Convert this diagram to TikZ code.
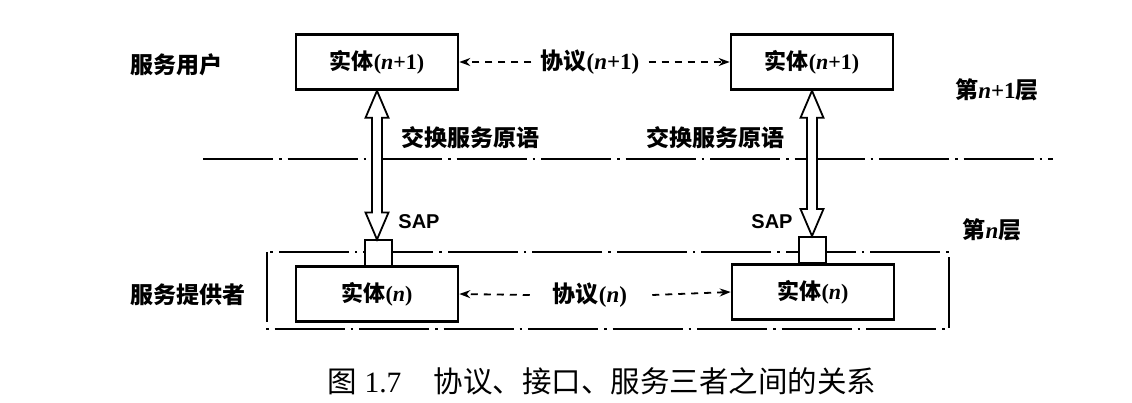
\documentclass[tikz,border=0pt]{standalone}
\usepackage{fontspec}
\setmainfont{Liberation Serif}
\newfontfamily\cjk{Noto Sans CJK SC}
\newfontfamily\sapfont{Liberation Sans}
\usetikzlibrary{arrows.meta,calc}
\newcommand{\zh}[1]{{\cjk #1}}
\newcommand{\vdarrow}[2]{%
  \draw[dblarrow] let \p1=(#1), \p2=(#2) in
    (\x1,\y1) -- (\x1+11.5pt,\y1-27pt) -- (\x1+5pt,\y1-27pt) -- (\x1+5pt,\y2+27pt)
    -- (\x1+11.5pt,\y2+27pt) -- (\x1,\y2) -- (\x1-11.5pt,\y2+27pt) -- (\x1-5pt,\y2+27pt)
    -- (\x1-5pt,\y1-27pt) -- (\x1-11.5pt,\y1-27pt) -- cycle;}
\tikzset{
  entity/.style={draw, line width=2.6pt, fill=white, minimum width=162pt, minimum height=55pt, font=\fontsize{22}{26}\selectfont\bfseries, inner sep=0pt},
  sapbox/.style={draw, line width=2pt, fill=white, minimum width=27pt, minimum height=26pt, inner sep=0pt},
  lbl/.style={font=\fontsize{23}{27}\selectfont\bfseries, inner sep=1pt},
  saplbl/.style={font=\fontsize{20}{24}\sapfont\bfseries, inner sep=1pt},
  proto/.style={line width=1.8pt, dash pattern=on 7pt off 6pt, -{Stealth[length=11pt,width=8pt]}},
  dashdot/.style={line width=2pt, dash pattern=on 70pt off 6pt on 2.5pt off 6pt},
  dblarrow/.style={line width=1.8pt, line join=miter, fill=white},
}
\begin{document}
\begin{tikzpicture}[x=1pt,y=-1pt]
\useasboundingbox (0,0) rectangle (1132,403);
% layer separator and layer n frame
\coordinate (hl) at (203,159);
\coordinate (hr) at (1053,159);
\draw[dashdot, line width=2.6pt] (hl) -- (hr);
\coordinate (f1) at (267,252);
\coordinate (f2) at (949,329);
\draw[dashdot] (f1) rectangle (f2);
% entities
\node[entity] (eul) at (377,62) {\zh{实体}(\textit{n}+1)};
\node[entity] (eur) at (812,62) {\zh{实体}(\textit{n}+1)};
\node[entity] (edl) at (377,294) {\zh{实体}(\textit{n})};
\node[entity] (edr) at (813,292) {\zh{实体}(\textit{n})};
% SAPs
\node[sapbox] (sapl) at (378,253.5) {};
\node[sapbox] (sapr) at (812,250) {};
% protocols
\node[lbl] (pu) at (590,62) {\zh{协议}(\textit{n}+1)};
\node[lbl] (pd) at (590,295) {\zh{协议}(\textit{n})};
\draw[proto] ([xshift=-8pt]pu.west) -- (eul.east);
\draw[proto] ([xshift=8pt]pu.east) -- (eur.west);
\draw[proto] ([xshift=-22pt]pd.west) -- (edl.east);
\draw[proto] ([xshift=24pt]pd.east) -- (edr.west);
% double arrows
\vdarrow{eul.south}{sapl.north}
\vdarrow{eur.south}{sapr.north}
% labels
\node[lbl] (xl) at (470,138) {\zh{交换服务原语}};
\node[lbl] (xr) at (715,138) {\zh{交换服务原语}};
\node[saplbl] (sl) at (419,222) {SAP};
\node[saplbl] (sr) at (772,222) {SAP};
\node[lbl] (su) at (176,65) {\zh{服务用户}};
\node[lbl] (sp) at (188,295) {\zh{服务提供者}};
\node[lbl] (l1) at (997,90) {\zh{第}\textit{n}+1\zh{层}};
\node[lbl] (l0) at (992,230) {\zh{第}\textit{n}\zh{层}};
\node[font=\fontsize{29.5}{33}\selectfont, inner sep=1pt] (cap) at (602,381) {\zh{图} 1.7\hspace{1.1em}\zh{协议、接口、服务三者之间的关系}};
\end{tikzpicture}
\end{document}
